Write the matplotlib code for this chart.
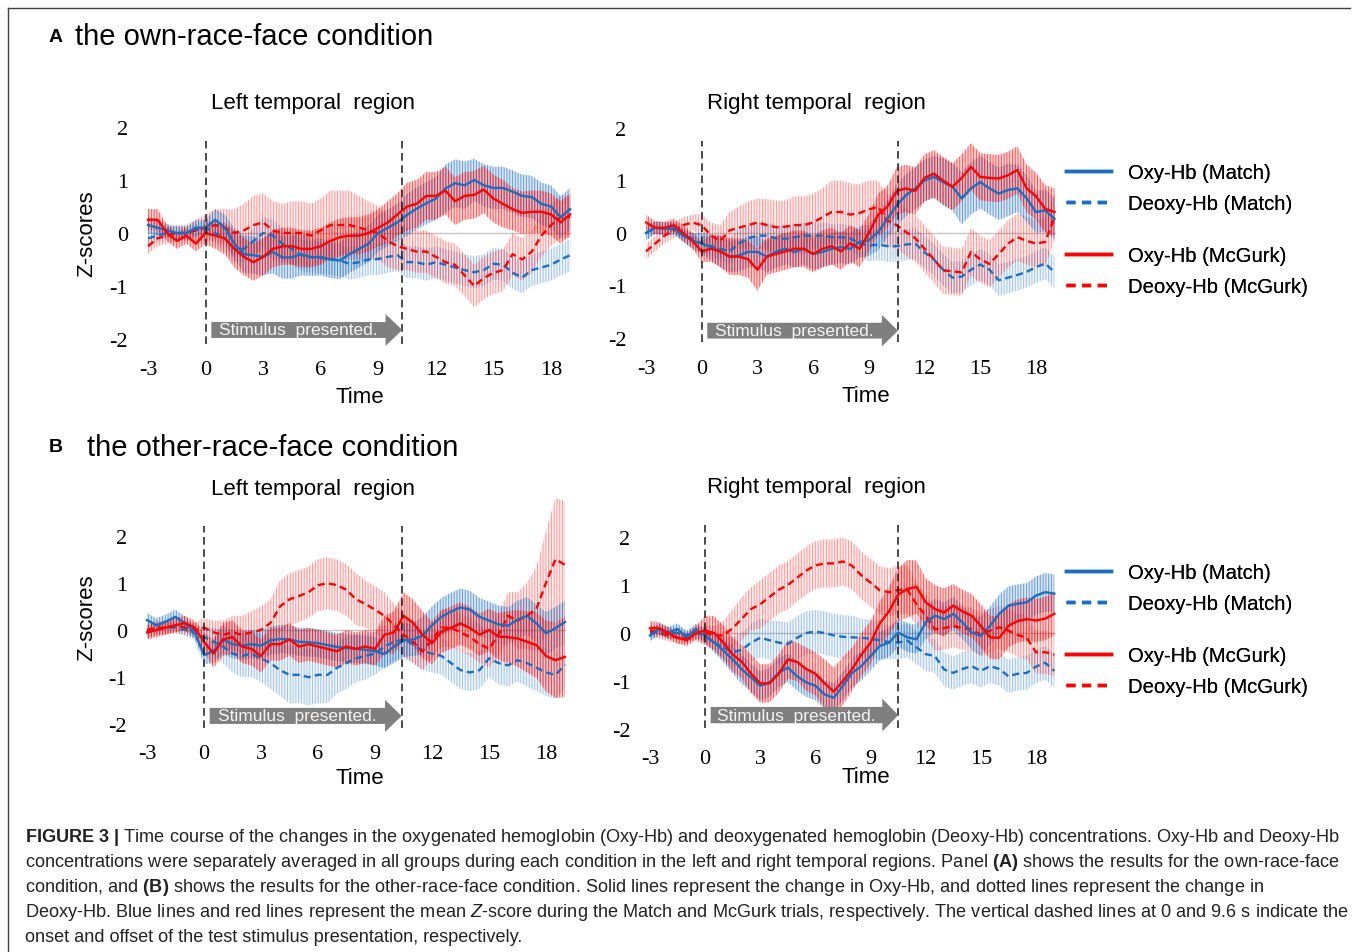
import numpy as np
import matplotlib
matplotlib.use("Agg")
import matplotlib.pyplot as plt
from matplotlib.lines import Line2D
from matplotlib.patches import FancyArrow
from matplotlib.colors import to_rgba

plt.rcParams["font.family"] = ["Liberation Sans", "DejaVu Sans"]
plt.rcParams["axes.unicode_minus"] = False
plt.rcParams["hatch.linewidth"] = 0.7
plt.rcParams["mathtext.fontset"] = "custom"
plt.rcParams["mathtext.rm"] = "Liberation Sans"
plt.rcParams["mathtext.bf"] = "Liberation Sans:bold"
plt.rcParams["mathtext.it"] = "Liberation Sans:italic"

# sample times (s), every 0.5 s from -3 to 19
TIME = np.arange(-3, 19.5, 0.5)

# ── A: own-race-face, left temporal ──
a_left_oxy_match = [0.15, 0.1, 0.05, 0.0, 0.0, 0.1, 0.1,
                    0.25, 0.1, -0.2, -0.4, -0.42, -0.45, -0.36, -0.46, -0.46, -0.4, -0.46, -0.45, -0.5, -0.52, -0.4, -0.3, -0.2, 0.0, 0.1, 0.2,
                    0.34, 0.46, 0.56, 0.65, 0.84, 0.94, 0.9, 1.0, 0.9, 0.85, 0.85, 0.78, 0.7, 0.68, 0.55, 0.5, 0.3, 0.45]
a_left_oxy_match_err = [0.15, 0.15, 0.12, 0.12, 0.12, 0.15, 0.15,
                        0.2, 0.25, 0.3, 0.35, 0.35, 0.35, 0.4, 0.4, 0.4, 0.4, 0.35, 0.35, 0.35, 0.35, 0.35, 0.35, 0.35, 0.35, 0.35, 0.35,
                        0.4, 0.4, 0.4, 0.4, 0.45, 0.45, 0.45, 0.4, 0.4, 0.4, 0.4, 0.4, 0.4, 0.4, 0.4, 0.4, 0.4, 0.4]
a_left_deoxy_match = [-0.1, -0.05, 0.0, 0.0, 0.0, 0.05, 0.1,
                      0.0, -0.1, -0.3, -0.3, -0.15, 0.0, -0.05, -0.2, -0.3, -0.42, -0.45, -0.47, -0.49, -0.52, -0.58, -0.55, -0.5, -0.49, -0.45, -0.42,
                      -0.55, -0.55, -0.6, -0.55, -0.6, -0.65, -0.7, -0.74, -0.7, -0.58, -0.6, -0.75, -0.84, -0.7, -0.65, -0.6, -0.5, -0.42]
a_left_deoxy_match_err = [0.12, 0.12, 0.12, 0.12, 0.12, 0.12, 0.15,
                          0.2, 0.25, 0.25, 0.25, 0.25, 0.3, 0.3, 0.3, 0.3, 0.3, 0.3, 0.3, 0.3, 0.3, 0.3, 0.3, 0.3, 0.3, 0.3, 0.3,
                          0.3, 0.3, 0.3, 0.3, 0.3, 0.3, 0.3, 0.3, 0.3, 0.3, 0.3, 0.3, 0.3, 0.3, 0.3, 0.3, 0.3, 0.3]
a_left_oxy_mcgurk = [0.25, 0.25, 0.0, -0.15, -0.05, -0.2, 0.0,
                     -0.05, -0.1, -0.3, -0.45, -0.55, -0.45, -0.3, -0.25, -0.25, -0.3, -0.3, -0.25, -0.15, -0.08, -0.05, -0.05, 0.0, 0.1, 0.2, 0.35,
                     0.5, 0.55, 0.7, 0.7, 0.8, 0.6, 0.7, 0.72, 0.82, 0.65, 0.55, 0.45, 0.38, 0.4, 0.4, 0.35, 0.2, 0.35]
a_left_oxy_mcgurk_err = [0.2, 0.2, 0.15, 0.15, 0.15, 0.15, 0.2,
                         0.25, 0.3, 0.35, 0.35, 0.35, 0.35, 0.35, 0.35, 0.35, 0.35, 0.35, 0.35, 0.35, 0.35, 0.35, 0.35, 0.35, 0.35, 0.4, 0.4,
                         0.45, 0.45, 0.45, 0.45, 0.45, 0.45, 0.45, 0.45, 0.45, 0.45, 0.45, 0.4, 0.4, 0.4, 0.4, 0.4, 0.4, 0.4]
a_left_deoxy_mcgurk = [-0.25, -0.1, -0.05, 0.0, 0.0, 0.05, 0.1,
                       0.15, 0.1, 0.0, 0.05, 0.15, 0.2, 0.05, 0.0, 0.0, 0.0, -0.05, 0.05, 0.15, 0.15, 0.15, 0.1, 0.05, 0.0, -0.15, -0.25,
                       -0.3, -0.35, -0.35, -0.45, -0.55, -0.6, -0.8, -1.0, -0.85, -0.75, -0.7, -0.4, -0.5, -0.35, -0.05, 0.15, 0.3, 0.3]
a_left_deoxy_mcgurk_err = [0.15, 0.15, 0.15, 0.15, 0.15, 0.2, 0.25,
                           0.3, 0.35, 0.45, 0.5, 0.55, 0.55, 0.55, 0.55, 0.6, 0.6, 0.6, 0.6, 0.65, 0.65, 0.65, 0.6, 0.55, 0.5, 0.5, 0.45,
                           0.4, 0.4, 0.4, 0.4, 0.4, 0.4, 0.4, 0.4, 0.4, 0.4, 0.4, 0.4, 0.4, 0.4, 0.4, 0.4, 0.4, 0.4]

# ── A: own-race-face, right temporal ──
a_right_oxy_match = [0.0, 0.1, 0.08, 0.1, -0.05, -0.15, -0.2,
                     -0.27, -0.35, -0.45, -0.43, -0.36, -0.36, -0.45, -0.36, -0.3, -0.36, -0.3, -0.4, -0.36, -0.3, -0.27, -0.3, -0.17, -0.14, 0.02, 0.27,
                     0.53, 0.72, 0.85, 1.0, 1.07, 0.97, 0.88, 0.66, 0.85, 0.97, 0.85, 0.75, 0.82, 0.85, 0.66, 0.4, 0.43, 0.27]
a_right_oxy_match_err = [0.15, 0.12, 0.12, 0.12, 0.12, 0.15, 0.2,
                         0.25, 0.3, 0.3, 0.3, 0.3, 0.3, 0.3, 0.3, 0.3, 0.3, 0.3, 0.3, 0.3, 0.3, 0.3, 0.3, 0.3, 0.3, 0.35, 0.35,
                         0.4, 0.4, 0.4, 0.4, 0.4, 0.45, 0.45, 0.5, 0.5, 0.5, 0.5, 0.5, 0.5, 0.45, 0.45, 0.4, 0.4, 0.4]
a_right_deoxy_match = [0.0, 0.1, 0.08, 0.08, -0.05, -0.1, -0.2,
                       -0.25, -0.3, -0.35, -0.2, -0.1, -0.05, -0.05, -0.1, -0.11, -0.08, -0.05, -0.05, -0.05, -0.08, -0.08, -0.1, -0.2, -0.24, -0.22, -0.25,
                       -0.25, -0.22, -0.2, -0.37, -0.5, -0.7, -0.85, -0.83, -0.7, -0.6, -0.7, -0.9, -0.85, -0.8, -0.74, -0.65, -0.58, -0.75]
a_right_deoxy_match_err = [0.12, 0.12, 0.12, 0.12, 0.12, 0.12, 0.15,
                           0.2, 0.2, 0.25, 0.25, 0.25, 0.25, 0.25, 0.25, 0.25, 0.25, 0.25, 0.25, 0.25, 0.25, 0.25, 0.25, 0.25, 0.3, 0.3, 0.3,
                           0.3, 0.3, 0.3, 0.3, 0.3, 0.3, 0.3, 0.3, 0.3, 0.3, 0.3, 0.3, 0.3, 0.3, 0.3, 0.3, 0.3, 0.3]
a_right_oxy_mcgurk = [0.2, 0.1, 0.1, 0.15, 0.0, -0.15, -0.35,
                      -0.3, -0.35, -0.45, -0.45, -0.5, -0.7, -0.45, -0.4, -0.35, -0.3, -0.3, -0.4, -0.3, -0.25, -0.35, -0.2, -0.3, 0.0, 0.35, 0.5,
                      0.8, 0.85, 0.8, 1.05, 1.13, 1.0, 0.88, 1.05, 1.26, 1.07, 1.05, 1.04, 1.1, 1.2, 0.85, 0.7, 0.46, 0.4]
a_right_oxy_mcgurk_err = [0.15, 0.12, 0.12, 0.12, 0.15, 0.15, 0.2,
                          0.25, 0.3, 0.35, 0.35, 0.35, 0.4, 0.35, 0.35, 0.35, 0.35, 0.35, 0.35, 0.35, 0.35, 0.35, 0.35, 0.35, 0.35, 0.4, 0.4,
                          0.45, 0.45, 0.45, 0.45, 0.45, 0.45, 0.45, 0.45, 0.45, 0.45, 0.45, 0.45, 0.45, 0.45, 0.45, 0.45, 0.45, 0.45]
a_right_deoxy_mcgurk = [-0.35, -0.2, -0.05, 0.05, 0.15, 0.2, 0.15,
                        -0.05, -0.15, 0.05, 0.1, 0.15, 0.2, 0.15, 0.11, 0.12, 0.15, 0.15, 0.2, 0.3, 0.4, 0.4, 0.35, 0.38, 0.45, 0.5, 0.24,
                        0.15, 0.02, -0.1, -0.3, -0.5, -0.71, -0.73, -0.75, -0.36, -0.5, -0.59, -0.4, -0.2, -0.08, -0.15, -0.2, -0.17, 0.3]
a_right_deoxy_mcgurk_err = [0.15, 0.15, 0.15, 0.15, 0.15, 0.15, 0.2,
                            0.25, 0.3, 0.35, 0.4, 0.45, 0.45, 0.5, 0.5, 0.5, 0.55, 0.55, 0.55, 0.55, 0.6, 0.6, 0.6, 0.55, 0.55, 0.5, 0.5,
                            0.45, 0.45, 0.45, 0.45, 0.45, 0.45, 0.45, 0.45, 0.45, 0.45, 0.45, 0.45, 0.45, 0.45, 0.45, 0.45, 0.45, 0.45]

# ── B: other-race-face, left temporal ──
b_left_oxy_match = [0.21, 0.1, 0.18, 0.28, 0.14, -0.04, -0.53,
                    -0.45, -0.2, -0.3, -0.33, -0.3, -0.33, -0.22, -0.19, -0.2, -0.25, -0.26, -0.28, -0.32, -0.36, -0.38, -0.4, -0.42, -0.45, -0.51, -0.35,
                    -0.22, -0.2, -0.12, 0.1, 0.28, 0.39, 0.48, 0.43, 0.28, 0.2, 0.12, 0.09, 0.22, 0.3, 0.14, -0.07, 0.04, 0.17]
b_left_oxy_match_err = [0.15, 0.15, 0.15, 0.15, 0.15, 0.15, 0.2,
                        0.25, 0.3, 0.3, 0.3, 0.3, 0.3, 0.3, 0.3, 0.3, 0.3, 0.3, 0.3, 0.3, 0.3, 0.3, 0.3, 0.3, 0.3, 0.3, 0.35,
                        0.35, 0.35, 0.4, 0.4, 0.4, 0.4, 0.4, 0.4, 0.4, 0.4, 0.4, 0.4, 0.4, 0.4, 0.4, 0.45, 0.45, 0.45]
b_left_deoxy_match = [-0.05, 0.0, 0.05, 0.05, 0.0, -0.05, -0.15,
                      -0.25, -0.35, -0.5, -0.55, -0.5, -0.6, -0.7, -0.85, -0.95, -0.95, -1.0, -0.95, -0.95, -0.8, -0.7, -0.6, -0.55, -0.5, -0.35, -0.25,
                      -0.2, -0.3, -0.45, -0.5, -0.55, -0.7, -0.85, -0.9, -0.85, -0.6, -0.7, -0.75, -0.64, -0.7, -0.8, -0.9, -0.95, -0.74]
b_left_deoxy_match_err = [0.12, 0.12, 0.12, 0.12, 0.12, 0.15, 0.2,
                          0.3, 0.35, 0.4, 0.45, 0.5, 0.5, 0.55, 0.55, 0.6, 0.6, 0.6, 0.6, 0.6, 0.55, 0.55, 0.5, 0.5, 0.45, 0.45, 0.4,
                          0.4, 0.4, 0.4, 0.4, 0.4, 0.4, 0.4, 0.4, 0.4, 0.4, 0.45, 0.45, 0.45, 0.5, 0.5, 0.5, 0.5, 0.5]
b_left_oxy_mcgurk = [-0.05, 0.0, 0.05, 0.1, 0.15, 0.05, -0.25,
                     -0.5, -0.2, -0.15, -0.35, -0.4, -0.55, -0.3, -0.3, -0.2, -0.35, -0.3, -0.35, -0.4, -0.45, -0.35, -0.4, -0.35, -0.4, -0.1, -0.05,
                     0.3, 0.15, -0.1, -0.28, -0.04, 0.05, 0.14, 0.04, -0.1, 0.0, -0.14, -0.15, -0.18, -0.25, -0.32, -0.55, -0.64, -0.57]
b_left_oxy_mcgurk_err = [0.15, 0.15, 0.15, 0.15, 0.15, 0.15, 0.2,
                         0.3, 0.35, 0.35, 0.35, 0.35, 0.35, 0.35, 0.35, 0.35, 0.35, 0.35, 0.35, 0.35, 0.35, 0.35, 0.35, 0.35, 0.35, 0.4, 0.45,
                         0.5, 0.5, 0.5, 0.45, 0.45, 0.45, 0.45, 0.45, 0.45, 0.45, 0.5, 0.55, 0.6, 0.65, 0.7, 0.75, 0.8, 0.85]
b_left_deoxy_mcgurk = [0.0, 0.05, 0.05, 0.1, 0.05, 0.0, 0.05,
                       -0.05, -0.1, -0.05, -0.1, -0.05, 0.0, 0.15, 0.5, 0.65, 0.72, 0.8, 0.95, 0.99, 0.95, 0.85, 0.65, 0.55, 0.43, 0.3, 0.1,
                       -0.1, -0.25, -0.45, -0.2, 0.05, 0.05, -0.05, -0.15, -0.3, -0.4, -0.1, 0.3, 0.2, 0.3, 0.45, 1.0, 1.5, 1.38]
b_left_deoxy_mcgurk_err = [0.15, 0.15, 0.15, 0.15, 0.15, 0.15, 0.2,
                           0.25, 0.3, 0.35, 0.4, 0.45, 0.5, 0.5, 0.55, 0.55, 0.55, 0.55, 0.55, 0.55, 0.55, 0.55, 0.55, 0.5, 0.5, 0.5, 0.45,
                           0.45, 0.45, 0.4, 0.4, 0.4, 0.4, 0.4, 0.4, 0.4, 0.4, 0.45, 0.5, 0.6, 0.7, 0.9, 1.1, 1.3, 1.35]

# ── B: other-race-face, right temporal ──
b_right_oxy_match = [-0.05, 0.08, 0.01, 0.08, -0.09, 0.08, -0.06,
                     -0.2, -0.37, -0.55, -0.76, -0.93, -1.1, -1.03, -0.83, -0.72, -0.9, -1.03, -1.1, -1.28, -1.35, -1.1, -0.83, -0.69, -0.48, -0.27, -0.2,
                     0.01, -0.09, -0.13, 0.22, 0.36, 0.29, 0.4, 0.22, 0.01, -0.06, 0.15, 0.4, 0.57, 0.61, 0.64, 0.78, 0.85, 0.82]
b_right_oxy_match_err = [0.12, 0.12, 0.12, 0.12, 0.12, 0.12, 0.15,
                         0.2, 0.25, 0.3, 0.3, 0.3, 0.3, 0.3, 0.3, 0.3, 0.3, 0.3, 0.3, 0.3, 0.3, 0.3, 0.3, 0.3, 0.3, 0.3, 0.3,
                         0.3, 0.3, 0.3, 0.35, 0.35, 0.35, 0.35, 0.35, 0.35, 0.4, 0.4, 0.4, 0.4, 0.4, 0.4, 0.4, 0.4, 0.4]
b_right_deoxy_match = [0.0, 0.05, 0.0, 0.0, -0.05, 0.0, -0.05,
                       -0.2, -0.3, -0.4, -0.35, -0.2, -0.1, -0.15, -0.2, -0.23, -0.1, 0.0, 0.03, 0.0, -0.05, -0.08, -0.09, -0.1, -0.12, -0.15, -0.19,
                       -0.2, -0.16, -0.3, -0.44, -0.48, -0.76, -0.83, -0.75, -0.69, -0.79, -0.69, -0.75, -0.9, -0.85, -0.83, -0.7, -0.62, -0.79]
b_right_deoxy_match_err = [0.12, 0.12, 0.12, 0.12, 0.12, 0.12, 0.15,
                           0.2, 0.25, 0.3, 0.35, 0.4, 0.4, 0.4, 0.45, 0.45, 0.45, 0.45, 0.45, 0.45, 0.45, 0.45, 0.45, 0.4, 0.4, 0.4, 0.35,
                           0.35, 0.35, 0.35, 0.35, 0.35, 0.35, 0.35, 0.35, 0.35, 0.35, 0.35, 0.35, 0.35, 0.35, 0.35, 0.35, 0.35, 0.35]
b_right_oxy_mcgurk = [0.1, 0.1, 0.0, -0.1, -0.15, 0.0, 0.05,
                      0.0, -0.2, -0.45, -0.6, -0.85, -1.05, -1.05, -0.85, -0.55, -0.6, -0.75, -0.85, -1.05, -1.22, -1.0, -0.75, -0.45, -0.2, 0.2, 0.45,
                      0.8, 0.92, 0.96, 0.64, 0.5, 0.43, 0.57, 0.45, 0.36, 0.15, -0.09, -0.1, 0.15, 0.25, 0.29, 0.26, 0.3, 0.4]
b_right_oxy_mcgurk_err = [0.15, 0.12, 0.12, 0.12, 0.12, 0.15, 0.3,
                          0.35, 0.35, 0.35, 0.35, 0.4, 0.4, 0.4, 0.4, 0.4, 0.4, 0.45, 0.45, 0.5, 0.5, 0.5, 0.45, 0.45, 0.45, 0.45, 0.5,
                          0.55, 0.6, 0.55, 0.5, 0.5, 0.5, 0.45, 0.45, 0.45, 0.45, 0.45, 0.45, 0.45, 0.45, 0.45, 0.45, 0.45, 0.45]
b_right_deoxy_mcgurk = [0.05, 0.0, -0.05, -0.1, -0.1, 0.0, 0.0,
                        -0.05, -0.05, 0.1, 0.3, 0.5, 0.6, 0.75, 0.9, 1.0, 1.15, 1.3, 1.41, 1.45, 1.45, 1.49, 1.4, 1.2, 1.05, 0.89, 0.85,
                        0.9, 0.9, 0.6, 0.36, 0.08, 0.1, 0.15, 0.1, 0.08, -0.04, 0.05, 0.12, 0.05, -0.04, -0.1, -0.4, -0.4, -0.45]
b_right_deoxy_mcgurk_err = [0.12, 0.12, 0.12, 0.12, 0.12, 0.12, 0.15,
                            0.2, 0.3, 0.4, 0.45, 0.45, 0.5, 0.5, 0.5, 0.5, 0.5, 0.5, 0.5, 0.5, 0.5, 0.5, 0.5, 0.5, 0.5, 0.5, 0.5,
                            0.5, 0.5, 0.45, 0.45, 0.45, 0.45, 0.45, 0.45, 0.45, 0.45, 0.45, 0.45, 0.45, 0.45, 0.45, 0.45, 0.45, 0.45]

YTICKS = [-2, -1, 0, 1, 2]
XTICKS = [-3, 0, 3, 6, 9, 12, 15, 18]
LEGEND_LABELS = ["Oxy-Hb (Match)", "Deoxy-Hb (Match)", "Oxy-Hb (McGurk)", "Deoxy-Hb (McGurk)"]

BLUE = "#1c6ec0"
RED = "#ff0000"
W, H = 1355, 953

fig = plt.figure(figsize=(W / 100, H / 100), dpi=100)


def fx(x):
    return x / W


def fy(y):
    return 1 - y / H


def make_axes(x_m3, pps, y0, ppu):
    # place axes so data (-3, 0) sits at pixel (x_m3, y0)
    left, right = x_m3 - 0.5 * pps, x_m3 + 22.5 * pps
    top, bottom = y0 - 3.0 * ppu, y0 + 2.2 * ppu
    ax = fig.add_axes([fx(left), fy(bottom), (right - left) / W, (bottom - top) / H])
    ax.set_xlim(-3.5, 19.5)
    ax.set_ylim(-2.2, 3.0)
    for s in ax.spines.values():
        s.set_visible(False)
    ax.patch.set_visible(False)
    ax.set_xticks(XTICKS, [str(v) for v in XTICKS])
    ax.set_yticks(YTICKS, [str(v) for v in YTICKS])
    ax.tick_params(length=0, labelsize=16)
    ax.tick_params(axis="y", pad=7.5)
    ax.tick_params(axis="x", pad=7.6)
    for lab in ax.get_xticklabels() + ax.get_yticklabels():
        lab.set_fontfamily("Liberation Serif")
    return ax


def band(ax, y, e, color, dashed):
    y, e = np.asarray(y), np.asarray(e)
    face, hatch = (0.07, 0.36) if dashed else (0.18, 0.58)
    ax.fill_between(TIME, y - e, y + e, facecolor=to_rgba(color, face),
                    edgecolor=to_rgba(color, hatch), hatch="|" * 6, linewidth=0, zorder=2)


def draw_panel(ax, series, stim_end, vlo, vhi, arrow_y, body_hw, head_hw):
    ax.plot([TIME[0], TIME[-1]], [0, 0], color="#c4c4c4", lw=1, zorder=1)
    # error bars first (dashed ones underneath)
    for y, e, color, dashed in sorted(series, key=lambda s: not s[3]):
        band(ax, y, e, color, dashed)
    for y, e, color, dashed in sorted(series, key=lambda s: (not s[3], s[2] == RED)):
        if dashed:
            ax.plot(TIME, y, color=color, lw=1.7, dashes=(3, 1.8), zorder=4)
        else:
            ax.plot(TIME, y, color=color, lw=1.7, zorder=5)
    ax.vlines([0, stim_end], vlo, vhi, colors="#1a1a1a", linestyles=(0, (5, 3)), lw=1.1, zorder=6)
    arrow = FancyArrow(0.3, arrow_y, stim_end - 0.3, 0, width=2 * body_hw, head_width=2 * head_hw,
                       head_length=0.87, length_includes_head=True, color="#7f7f7f", lw=0, zorder=6)
    ax.add_patch(arrow)
    ax.text(0.3 + (stim_end - 1.17) / 2, arrow_y, "Stimulus  presented.", ha="center", va="center",
            color="#f4f4f4", fontsize=12.5, zorder=7)


ax_al = make_axes(148, 19.19, 234, 53)
draw_panel(ax_al, [(a_left_oxy_match, a_left_oxy_match_err, BLUE, False),
                   (a_left_deoxy_match, a_left_deoxy_match_err, BLUE, True),
                   (a_left_oxy_mcgurk, a_left_oxy_mcgurk_err, RED, False),
                   (a_left_deoxy_mcgurk, a_left_deoxy_mcgurk_err, RED, True)],
           10.25, -2.09, 1.74, -1.83, 0.15, 0.3)

ax_ar = make_axes(646, 18.57, 234, 52.5)
draw_panel(ax_ar, [(a_right_oxy_match, a_right_oxy_match_err, BLUE, False),
                   (a_right_deoxy_match, a_right_deoxy_match_err, BLUE, True),
                   (a_right_oxy_mcgurk, a_right_oxy_mcgurk_err, RED, False),
                   (a_right_deoxy_mcgurk, a_right_deoxy_mcgurk_err, RED, True)],
           10.57, -2.08, 1.76, -1.86, 0.15, 0.3)

ax_bl = make_axes(147, 19.0, 631, 47.2)
draw_panel(ax_bl, [(b_left_oxy_match, b_left_oxy_match_err, BLUE, False),
                   (b_left_deoxy_match, b_left_deoxy_match_err, BLUE, True),
                   (b_left_oxy_mcgurk, b_left_oxy_mcgurk_err, RED, False),
                   (b_left_deoxy_mcgurk, b_left_deoxy_mcgurk_err, RED, True)],
           10.4, -2.08, 2.2, -1.82, 0.17, 0.34)

ax_br = make_axes(650, 18.38, 634, 48)
draw_panel(ax_br, [(b_right_oxy_match, b_right_oxy_match_err, BLUE, False),
                   (b_right_deoxy_match, b_right_deoxy_match_err, BLUE, True),
                   (b_right_oxy_mcgurk, b_right_oxy_mcgurk_err, RED, False),
                   (b_right_deoxy_mcgurk, b_right_deoxy_mcgurk_err, RED, True)],
           10.51, -1.97, 2.24, -1.71, 0.17, 0.34)

# titles and axis labels
for x, y, s in [(313, 103, "Left temporal  region"), (816, 103, "Right temporal  region"),
                (313, 490, "Left temporal  region"), (816, 488, "Right temporal  region")]:
    fig.text(fx(x), fy(y), s, ha="center", va="center", fontsize=16)
for x, y in [(360, 398), (866, 397), (360, 779), (866, 778)]:
    fig.text(fx(x), fy(y), "Time", ha="center", va="center", fontsize=16)
for y in [234, 618]:
    fig.text(fx(87), fy(y), "Z-scores", ha="center", va="center", rotation=90, fontsize=16)

fig.text(fx(56), fy(37), "A", ha="center", va="center", fontsize=14, fontweight="bold")
fig.text(fx(75), fy(37), "the own-race-face condition", ha="left", va="center", fontsize=21)
fig.text(fx(56), fy(448), "B", ha="center", va="center", fontsize=14, fontweight="bold")
fig.text(fx(87), fy(448), "the other-race-face condition", ha="left", va="center", fontsize=21)

# legends (two pairs per row)
handles = [Line2D([], [], color=BLUE, lw=2.5),
           Line2D([], [], color=BLUE, lw=2.5, dashes=(2.6, 1.9)),
           Line2D([], [], color=RED, lw=2.5),
           Line2D([], [], color=RED, lw=2.5, dashes=(2.6, 1.9))]
for top in [(164, 247), (564, 647)]:
    for k, t in enumerate(top):
        leg = fig.legend(handles[2 * k:2 * k + 2], LEGEND_LABELS[2 * k:2 * k + 2], loc="upper left",
                         bbox_to_anchor=(fx(1066), fy(t)), frameon=False, fontsize=14.6,
                         borderpad=0, borderaxespad=0, handlelength=2.24, handletextpad=0.8,
                         labelspacing=0.6)
        fig.add_artist(leg)

# caption
caption = [
    r"$\mathbf{FIGURE\ 3\ |}$ Time course of the changes in the oxygenated hemoglobin (Oxy-Hb) and deoxygenated hemoglobin (Deoxy-Hb) concentrations. Oxy-Hb and Deoxy-Hb",
    r"concentrations were separately averaged in all groups during each condition in the left and right temporal regions. Panel $\mathbf{(A)}$ shows the results for the own-race-face",
    r"condition, and $\mathbf{(B)}$ shows the results for the other-race-face condition. Solid lines represent the change in Oxy-Hb, and dotted lines represent the change in",
    r"Deoxy-Hb. Blue lines and red lines represent the mean $\mathit{Z}$-score during the Match and McGurk trials, respectively. The vertical dashed lines at 0 and 9.6 s indicate the",
    r"onset and offset of the test stimulus presentation, respectively.",
]
for i, line in enumerate(caption):
    fig.text(fx(25), fy(838 + 25 * i), line, ha="left", va="center", fontsize=13.1, color="#222222")

# frame lines at top and left
fig.add_artist(Line2D([fx(8), fx(1350)], [fy(9), fy(9)], color="#404040", lw=1))
fig.add_artist(Line2D([fx(8), fx(8)], [fy(9), fy(953)], color="#404040", lw=1))

fig.savefig("out.png", dpi=100)
